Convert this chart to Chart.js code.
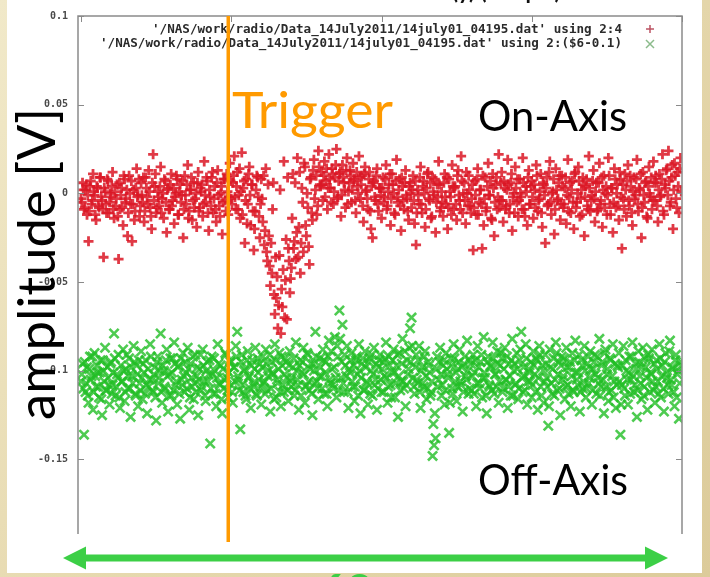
<!DOCTYPE html>
<html>
<head>
<meta charset="utf-8">
<script src="https://cdn.jsdelivr.net/npm/chart.js@4.4.1/dist/chart.umd.min.js"></script>
<style>
  html, body { margin: 0; padding: 0; background: #e6d9ab; }
  #plot { display: block; }
</style>
</head>
<body>
<canvas id="plot" width="710" height="577"></canvas>
<script>
// radio pulse, 14 July 2011, run 04195 -- column 4 (on-axis) and column 6 (off-axis), in mV
// two interleaved sample streams: "even" at whole sample numbers, "odd" half a sample later
const onAxisEven = [
  -3, 6, -9, 2, -12, -27, 4, -6, 11, -1, -15, 3, -8, 9, -4, -36, 1, -11, 7, -5,
  -2, 12, -14, -7, 5, -37, -9, 3, -18, 8, -3, -24, 10, -6, -27, 2, -10, 14, -1, -13,
  6, -5, -16, 9, -2, 13, -8, -20, 22, 4, -11, 1, -7, 15, -3, -14, 7, -22, 3, -9,
  11, -4, -17, 0, 8, -12, 5, -1, -25, 10, -6, 16, -10, 2, -15, 6, -3, -19, 12, -8,
  1, -13, 18, -5, 7, -21, -2, 9, -11, 4, -16, 13, -7, 0, -23, 8, -4, 11, -12, 17,
  -3, 6, 21, -9, 12, -1, -14, 23, 3, -28, 8, -6, 15, -18, 5, -32, -10, 10, -2, -25,
  8, -16, -29, 14, -38, -24, -52, -45, 6, -68, -59, -76, -35, -79, -64, 18, -49, -71, -31, -56,
  -42, 11, -27, -37, 20, -19, -45, 3, -33, 15, -24, -8, -40, 9, -15, 19, 2, -12, 24, 5,
  12, -4, 18, 7, -9, 22, 3, 14, -6, 9, 25, -2, 11, -13, 16, 6, -8, 20, 1, 13,
  -5, 17, 8, -11, 4, 21, -3, 10, -16, 15, 2, -9, 12, -20, -25, 7, -4, 14, -10, 3,
  -14, 9, -2, 16, -7, 5, -18, 11, 0, -12, 19, -5, 8, -21, 4, -9, 13, -3, -15, 6,
  -8, 10, -17, -29, 2, -6, 15, -11, 7, -19, 3, 12, -4, -14, 9, -1, -22, 5, 18, -10,
  1, -13, 11, -6, -20, 8, -2, 16, -9, 4, -15, 13, -4, 21, -11, 6, -17, 0, 10, -7,
  -3, -32, 7, -12, 14, -5, 2, -31, -18, 9, -8, 17, -1, -14, 11, -24, 5, -9, 22, -4,
  12, -16, 3, -7, 19, -11, 6, -21, 0, 15, -5, -13, 8, -2, 20, -9, 4, -18, 13, -6,
  7, -14, 2, 16, -10, -3, 11, -19, 5, -28, 9, -6, 18, -12, 1, -23, 14, -4, 6, -15,
  10, -8, 3, -17, 19, -2, -11, 7, -20, 12, -5, 15, -13, 2, 9, -24, 4, -7, 21, -10,
  -1, 13, -16, 6, -9, 17, -4, -19, 10, 0, -12, 20, -6, 3, -22, 14, -8, 5, -15, 8,
  -31, -3, 11, -13, 16, -7, 4, -18, 9, -1, 19, -10, 2, -25, 12, -5, 7, -14, 15, -2,
  -9, 18, -4, 6, -16, 11, -1, 22, -12, 3, 14, 24, -7, 9, -20, 17, -3, 12, -11, 20
];
const onAxisOdd = [
  -5, 2, -8, 5, -1, -10, 7, -4, 1, -12, 4, -7, 9, -2, -9, 3, -6, 8, -11, 0,
  4, -9, 1, -3, -13, 6, -1, -8, 10, -5, 2, -11, 0, 7, -6, -15, 3, -2, 8, -7,
  -1, 9, -10, 3, -6, 1, -13, 6, -4, 11, -8, -2, 4, -11, 0, 8, -5, 2, -9, 5,
  -7, 3, -2, 10, -12, 1, -5, 7, -9, -1, 5, -14, 2, 9, -4, -8, 0, 6, -10, 3,
  5, -6, -1, 9, -11, 2, -7, 12, -3, -9, 6, -1, -13, 4, -5, 8, -10, 1, -2, 7,
  -6, 10, -2, 4, -9, 14, 1, -12, 7, -4, -17, 11, -1, 5, -10, -20, 2, 9, -13, -6,
  -3, 10, -21, -33, 5, -41, -28, -9, -57, -36, -47, -63, 2, -54, -43, -70, -26, 9, -38, -48,
  -14, -31, 6, -22, -36, 12, -28, -5, 17, -18, 0, -30, 8, -11, 13, -3, 10, -7, 15, 4,
  5, 10, -2, 14, 3, 8, -5, 11, 1, 16, -3, 7, 12, -1, 9, 2, 13, -6, 6, 10,
  2, 7, -4, 12, 0, 9, 5, -7, 11, 1, -3, 8, -10, 4, 6, -2, 10, -6, 3, -1,
  3, -5, 8, -9, 1, 11, -3, 5, -11, 7, -2, 2, -7, 9, -4, 6, -1, -10, 4, 0,
  2, -4, 7, -11, -1, 9, -6, 4, 0, -9, 11, -3, 6, -13, 1, 8, -5, -2, 5, -8,
  -5, 6, -2, 9, -8, 1, -12, 4, 3, -6, 10, -1, -9, 7, 0, -4, 12, -7, 2, -11,
  5, -8, -1, 8, -12, 2, -6, 10, -3, -10, 4, -1, 7, -15, 3, -5, 9, -2, -8, 6,
  -4, 7, -9, 2, 5, -6, 11, -2, -11, 3, 8, -4, 0, -9, 6, -13, 1, 9, -6, 4,
  -2, 5, -8, 10, -4, 1, -11, 6, -1, 3, -7, 12, -5, 0, 8, -9, 2, -3, 10, -6,
  4, -6, 9, -1, -10, 6, 2, -5, 11, -8, 0, 7, -3, -12, 5, -2, 8, -9, 3, -4,
  7, -3, 1, -10, 6, -6, 9, 2, -8, 4, -1, 10, -12, 3, -5, 8, 0, -7, 12, -2,
  5, -9, 2, 7, -4, 10, -11, 1, -3, 8, -6, 3, 11, -8, -1, 6, -13, 4, 0, 9,
  -4, 6, 10, -7, 2, -2, 8, -10, 5, 13, -1, 7, -5, 16, 2, 10, -8, 4, 14, 1
];

const offAxisEven = [
  -6, 4, -36, -12, 2, -18, 8, -3, -22, 10, -9, -1, -15, 6, -25, 0, 13, -11, -4, -19,
  5, -8, 21, -14, -2, 9, -21, -6, 12, -17, 1, -10, 7, -26, -3, 14, -13, 3, -20, -7,
  11, -16, -1, 6, -24, -9, 15, -5, -12, 2, -28, 8, -4, 21, -18, 0, -10, 12, -23, -2,
  -14, 7, 16, -8, -19, 3, -27, -5, 10, -12, -1, 13, -22, 4, -9, -16, 9, -3, -25, 1,
  -11, 12, -6, -17, 5, -2, -41, 8, -13, 0, -20, 15, -7, 3, -24, -10, 10, -4, -15, 6,
  -8, -18, 2, 14, 22, -5, -33, 9, -12, 1, -16, 11, -3, -21, 6, -9, 13, -14, -1, 4,
  -19, 8, -6, 12, -11, 0, -23, 5, -2, 15, -15, -7, 10, -20, 3, -12, 7, -4, -17, 11,
  -9, 2, -14, 16, -5, -22, 6, -1, 13, -18, -8, 9, -11, 4, -25, 0, 22, -6, -16, 7,
  -3, 12, -13, 5, -20, 17, -7, 1, -10, 19, -15, 8, 34, -4, 26, -12, 3, 14, -21, -1,
  10, -9, -17, 6, -2, 15, -24, 4, -11, 11, -6, -19, 7, 0, -14, 13, -5, -22, 2, 9,
  -12, 5, -3, 16, -18, 8, -8, -1, 12, -15, 3, -26, 10, -6, 18, -10, -20, 6, 1, 24,
  30, -4, -13, 9, -7, 14, -21, 2, -9, 11, -16, 5, -1, -12, -48, -42, -38, 8, -5, 13,
  -14, 3, -19, 10, -2, -35, 7, -10, 15, -6, -17, 1, 12, -8, -23, 4, -3, 17, -13, 6,
  -11, 9, -1, -20, 14, -7, 5, -15, 19, -4, -24, 8, -9, 2, 16, -13, -2, 11, -18, 3,
  7, -10, 13, -5, -21, 4, -14, 18, 0, -8, 10, -16, 6, 22, -12, -3, 15, -19, 1, -6,
  -15, 11, -2, 7, -22, 14, -9, 3, -18, 9, -4, -31, 12, -7, 1, -14, 16, -11, 5, -25,
  8, -3, -16, 13, -8, 2, -20, 10, -12, 17, -5, -1, -23, 6, -10, 14, -15, 4, -7, 11,
  -19, 1, 9, -13, -4, 18, -9, 5, -24, 12, -2, -17, 7, -11, 15, -6, -21, 3, 10, -36,
  -8, 14, -14, 0, -19, 8, -5, 16, -12, 4, -26, 11, -3, -16, 13, -9, 2, -22, 7, -1,
  12, -11, -18, 6, -6, 15, -15, 3, -23, 10, -4, -13, 17, -8, 1, -20, 9, -2, -27, 5
];
const offAxisOdd = [
  -2, -10, 5, -7, -14, 1, -5, 8, -12, -3, 3, -9, -1, -16, 6, -6, -11, 2, -8, 4,
  -13, -1, 7, -9, -4, -15, 3, -6, 0, -12, 9, -3, -10, 2, -7, 5, -14, -2, 6, -11,
  -4, 4, -13, -8, 1, -5, 8, -11, -2, -15, 5, -7, 0, -12, 3, -9, 6, -3, -14, 7,
  -1, -11, 4, -6, 2, -13, 7, -8, -3, 5, -10, 1, -15, -4, 8, -7, -12, 2, -5, 9,
  -9, 3, -14, 0, -6, 6, -10, -2, 7, -13, -4, 4, -8, -16, 1, -5, 9, -11, -1, 5,
  -12, 2, -6, 8, -3, -11, 5, -8, 0, -14, 6, -4, -10, 3, -7, 1, -13, 7, -5, -9,
  2, -7, -13, 4, -3, 9, -10, -1, -16, 6, -5, 1, -12, 8, -8, -2, 5, -11, 3, -6,
  -4, 7, -11, 0, -8, 3, -14, 5, -2, -9, 10, -6, 1, -13, 4, -7, 8, -10, -3, 2,
  -10, 6, -1, -13, 8, -5, 11, -8, 2, -4, 14, -11, 18, 5, -7, 9, -3, -12, 1, 6,
  -6, 3, -9, 8, -14, 0, -4, 7, -11, 2, -7, 5, -13, 9, -2, -8, 4, -10, 6, -5,
  1, -12, 7, -4, -9, 3, -15, 6, -1, -7, 9, -3, -11, 4, -6, 11, -8, -2, 13, 5,
  14, -9, 2, -5, 6, -12, 0, -7, 8, -3, -10, 3, -14, -6, -30, -24, 1, -9, 5, -2,
  -8, 6, -11, 1, -4, -18, 3, -13, 7, -1, -9, 5, -6, 2, -12, 8, -5, 0, -10, 4,
  -3, -13, 6, -7, 2, -10, 9, -4, -1, -14, 5, -8, 3, -11, 7, -2, -9, 4, -6, 10,
  -12, 1, -5, 8, -9, -3, 6, -14, 4, -7, 1, -10, 12, -4, 2, -11, 7, -6, -1, 5,
  -8, 3, -12, 6, -4, 9, -14, 0, -6, 4, -9, -20, 2, -13, 7, -5, 10, -2, -10, 3,
  -5, 7, -9, 2, -13, 5, -3, -11, 6, -1, -8, 9, -12, 3, -6, 0, -10, 8, -4, 1,
  -11, 5, -2, 8, -7, -14, 3, -5, 10, -9, 1, -12, 6, -3, -15, 4, -8, 2, -6, -19,
  3, -10, 6, -5, -1, -13, 8, -3, -8, 1, -11, 5, -7, 2, -14, 7, -4, 9, -12, -2,
  -6, 4, -9, 1, -13, 7, -3, -10, 5, -1, -8, 11, -5, 2, -12, 6, -15, 0, -7, 3
];

const yTicks = [0.1, 0.05, 0, -0.05, -0.1, -0.15];
const xTicks = [0, 100, 200, 300, 400];
const offAxisShift = -0.1;       // gnuplot: using 2:($6-0.1)
const triggerSample = 98;
const legendLines = [
  "'/NAS/work/radio/Data_14July2011/14july01_04195.dat' using 2:4",
  "'/NAS/work/radio/Data_14July2011/14july01_04195.dat' using 2:($6-0.1)"
];

const RED = 'rgba(218, 22, 36, 0.85)';
const GREEN = 'rgba(34, 190, 38, 0.8)';
const ORANGE = '#ff9a00';
const ARROW = '#3ccf46';

function toPoints(even, odd, shift) {
  const pts = [];
  even.forEach((v, i) => pts.push({ x: i, y: v / 1000 + shift }));
  odd.forEach((v, i) => pts.push({ x: i + 0.5, y: v / 1000 + shift }));
  return pts;
}
const onPts = toPoints(onAxisEven, onAxisOdd, 0);
const offPts = toPoints(offAxisEven, offAxisOdd, offAxisShift);

// draw text squeezed/stretched to a given width
function fitText(ctx, text, x, y, width, size, family, color) {
  ctx.save();
  ctx.font = size + 'px ' + family;
  ctx.fillStyle = color;
  ctx.textBaseline = 'alphabetic';
  ctx.textAlign = 'left';
  const w = ctx.measureText(text).width;
  ctx.translate(x, y);
  ctx.scale(width / w, 1);
  ctx.fillText(text, 0, 0);
  ctx.restore();
}

const slide = {
  id: 'slide',
  beforeDraw(chart) {
    const ctx = chart.ctx;
    ctx.save();
    const g = ctx.createLinearGradient(0, 0, 710, 577);
    g.addColorStop(0, '#f1e9c9');
    g.addColorStop(0.45, '#e7dab0');
    g.addColorStop(1, '#dccb9a');
    ctx.fillStyle = g;
    ctx.fillRect(0, 0, 710, 577);
    ctx.fillStyle = '#ffffff';
    ctx.fillRect(7, 0, 695, 573);
    ctx.restore();
  },
  afterDatasetsDraw(chart) {
    const ctx = chart.ctx;
    const a = chart.chartArea;
    const xs = chart.scales.x, ys = chart.scales.y;
    ctx.save();

    // gnuplot frame (bottom edge cut off)
    ctx.strokeStyle = '#8a8a8a';
    ctx.lineWidth = 1.5;
    ctx.beginPath();
    ctx.moveTo(a.left, a.bottom);
    ctx.lineTo(a.left, a.top);
    ctx.lineTo(a.right, a.top);
    ctx.lineTo(a.right, a.bottom);
    ctx.stroke();

    // inward tick marks
    ctx.lineWidth = 1;
    ctx.beginPath();
    yTicks.forEach(t => {
      const py = Math.round(ys.getPixelForValue(t)) + 0.5;
      ctx.moveTo(a.left, py); ctx.lineTo(a.left + 6, py);
      ctx.moveTo(a.right, py); ctx.lineTo(a.right - 6, py);
    });
    xTicks.forEach(t => {
      const px = Math.round(xs.getPixelForValue(t)) + 0.5;
      ctx.moveTo(px, a.top); ctx.lineTo(px, a.top + 6);
    });
    ctx.stroke();

    // key
    ctx.font = 'bold 12px "DejaVu Sans Mono"';
    ctx.fillStyle = '#2b2b2b';
    ctx.textAlign = 'right';
    ctx.textBaseline = 'alphabetic';
    legendLines.forEach((s, k) => {
      const w = ctx.measureText(s).width;
      const target = k === 0 ? 470 : 522;
      ctx.save();
      ctx.translate(622, 33 + k * 14);
      ctx.scale(target / w, 1);
      ctx.fillText(s, 0, 0);
      ctx.restore();
    });
    ctx.lineWidth = 1.5;
    ctx.strokeStyle = 'rgba(170, 40, 60, 0.8)';
    ctx.beginPath();
    ctx.moveTo(646, 29); ctx.lineTo(654, 29);
    ctx.moveTo(650, 25); ctx.lineTo(650, 33);
    ctx.stroke();
    ctx.strokeStyle = 'rgba(110, 170, 110, 0.8)';
    ctx.beginPath();
    ctx.moveTo(646, 40); ctx.lineTo(654, 48);
    ctx.moveTo(654, 40); ctx.lineTo(646, 48);
    ctx.stroke();

    // trigger marker
    const tx = xs.getPixelForValue(triggerSample);
    ctx.strokeStyle = ORANGE;
    ctx.lineWidth = 3.5;
    ctx.beginPath();
    ctx.moveTo(tx, a.top);
    ctx.lineTo(tx, 542);
    ctx.stroke();

    fitText(ctx, 'Trigger', 232, 128, 161, 50, 'Lato', ORANGE);
    fitText(ctx, 'On-Axis', 478, 131, 149, 43, 'Lato', '#000000');
    fitText(ctx, 'Off-Axis', 478, 495, 150, 43, 'Lato', '#000000');

    // y title, rotated
    ctx.save();
    ctx.translate(55, 420);
    ctx.rotate(-Math.PI / 2);
    fitText(ctx, 'amplitude [V]', 0, 0, 312, 52, 'Lato', '#000000');
    ctx.restore();

    // cropped title line
    ctx.font = 'bold 22px Lato';
    ctx.fillStyle = '#111';
    ctx.textAlign = 'left';
    ctx.textBaseline = 'alphabetic';
    ctx.fillText('(y) (sample)', 452, -1);

    // time-span arrow
    ctx.fillStyle = ARROW;
    ctx.fillRect(80, 554.5, 570, 7);
    ctx.beginPath();
    ctx.moveTo(63, 558); ctx.lineTo(86, 546.5); ctx.lineTo(86, 569.5); ctx.closePath();
    ctx.moveTo(668, 558); ctx.lineTo(645, 546.5); ctx.lineTo(645, 569.5); ctx.closePath();
    ctx.fill();
    ctx.font = 'bold 48px Lato';
    ctx.textAlign = 'left';
    ctx.textBaseline = 'top';
    ctx.fillText('60', 318, 570);

    ctx.restore();
  }
};

new Chart(document.getElementById('plot'), {
  type: 'scatter',
  data: {
    datasets: [
      {
        label: 'on-axis',
        data: onPts,
        pointStyle: 'cross',
        pointRadius: 5,
        pointBorderWidth: 2.8,
        pointBorderColor: RED,
        pointBackgroundColor: RED
      },
      {
        label: 'off-axis',
        data: offPts,
        pointStyle: 'crossRot',
        pointRadius: 6.5,
        pointBorderWidth: 2.6,
        pointBorderColor: GREEN,
        pointBackgroundColor: GREEN
      }
    ]
  },
  options: {
    responsive: false,
    animation: false,
    devicePixelRatio: 1,
    layout: { padding: { left: 0, top: 15, right: 28, bottom: 43 } },
    plugins: {
      legend: { display: false },
      tooltip: { enabled: false }
    },
    scales: {
      x: {
        type: 'linear',
        min: -2,
        max: 400,
        display: false
      },
      y: {
        min: -0.192,
        max: 0.1,
        border: { display: false },
        grid: { display: false, drawTicks: false },
        afterFit(scale) { scale.width = 78; },
        afterBuildTicks(scale) { scale.ticks = yTicks.map(v => ({ value: v })); },
        ticks: {
          padding: 10,
          color: '#4a4a4a',
          font: { family: 'DejaVu Sans Mono', size: 10, weight: 'bold' },
          callback: v => String(Math.round(v * 100) / 100)
        }
      }
    }
  },
  plugins: [slide]
});
</script>
</body>
</html>
